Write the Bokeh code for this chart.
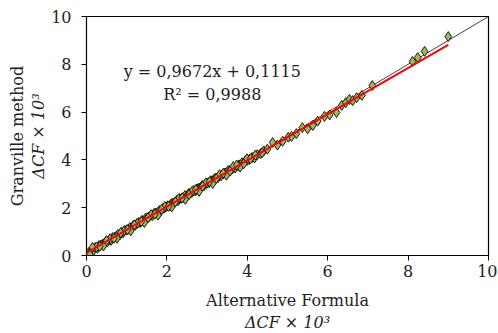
from bokeh.plotting import figure
from bokeh.models import LinearAxis, Label, FixedTicker, Range1d
from bokeh.embed import file_html
from bokeh.resources import INLINE

alt_x = [0.02,0.05,0.10,0.14,0.18,0.22,0.27,0.31,0.35,0.40,0.44,0.48,0.52,0.57,0.61,0.65,0.70,0.74,0.78,0.83,
         0.87,0.91,0.95,1.00,1.04,1.08,1.12,1.17,1.21,1.25,1.30,1.34,1.38,1.42,1.47,1.51,1.55,1.60,1.64,1.68,
         1.72,1.77,1.81,1.85,1.90,1.94,1.98,2.02,2.07,2.11,2.15,2.20,2.24,2.28,2.32,2.37,2.41,2.45,2.50,2.54,
         2.58,2.62,2.67,2.71,2.75,2.80,2.84,2.88,2.92,2.97,3.01,3.05,3.10,3.14,3.18,3.22,3.27,3.31,3.35,3.40,
         3.44,3.48,3.52,3.57,3.61,3.65,3.70,3.74,3.78,3.82,3.87,3.91,3.95,4.00,4.05,4.12,4.18,4.25,4.33,4.41,
         4.50,4.63,4.75,4.88,5.02,5.10,5.22,5.37,5.50,5.63,5.75,5.92,6.05,6.22,6.35,6.45,6.54,6.62,6.72,6.85,
         7.11,8.11,8.24,8.41,9.00,
         0.08,0.25,0.42,0.59,0.76,0.93,1.10,1.27,1.44,1.61,1.78,1.95,2.12,2.29,2.46,2.63,2.80,2.97,3.14,3.31,
         3.48,3.65,3.82,3.99,
         0.15,0.33,0.50,0.68,0.85,1.02,1.19,1.36,1.53,1.70,1.87,2.04,2.21,2.38,2.55,2.72,2.89,3.06,3.23,3.40,
         3.57,3.74,3.91,4.08,4.20,4.37]
granville_y = [0.00,0.12,0.15,0.24,0.22,0.33,0.30,0.41,0.44,0.47,0.50,0.58,0.57,0.66,0.63,0.75,0.76,0.80,0.88,0.86,
               0.97,0.95,1.05,1.07,1.10,1.17,1.15,1.27,1.26,1.33,1.38,1.39,1.47,1.45,1.56,1.57,1.61,1.68,1.66,1.76,
               1.78,1.81,1.88,1.87,1.97,1.99,2.03,2.08,2.08,2.17,2.19,2.23,2.30,2.29,2.38,2.40,2.43,2.51,2.49,2.59,
               2.61,2.64,2.72,2.70,2.79,2.82,2.85,2.93,2.91,3.00,3.03,3.05,3.13,3.12,3.21,3.24,3.25,3.33,3.34,3.41,
               3.45,3.46,3.55,3.56,3.60,3.67,3.66,3.75,3.77,3.80,3.88,3.86,3.96,3.98,4.02,4.10,4.08,4.22,4.26,4.38,
               4.45,4.73,4.62,4.78,4.95,4.98,5.10,5.35,5.30,5.44,5.62,5.82,5.88,5.98,6.28,6.40,6.53,6.48,6.60,6.70,
               7.11,8.12,8.28,8.54,9.16,
               0.05,0.36,0.40,0.70,0.72,1.02,1.03,1.35,1.38,1.71,1.69,2.05,2.03,2.37,2.35,2.69,2.68,3.04,3.01,3.38,
               3.36,3.72,3.70,4.05,
               0.34,0.38,0.62,0.72,0.95,1.08,1.28,1.42,1.58,1.73,1.93,2.06,2.24,2.41,2.55,2.76,2.90,3.09,3.22,3.44,
               3.53,3.78,3.84,4.05,4.20,4.30]

slope = 0.9672
intercept = 0.1115
eq_text = "y = 0,9672x + 0,1115"
r2_text = "R² = 0,9988"
ticks = [0, 2, 4, 6, 8, 10]

FONT = "DejaVu Serif"
FS = "16px"
TXT = "#222222"

p = figure(frame_width=402, frame_height=239, output_backend="svg", toolbar_location=None,
           x_range=Range1d(0, 10), y_range=Range1d(0, 10),
           min_border_left=86, min_border_right=9, min_border_top=16, min_border_bottom=76,
           x_axis_location=None, y_axis_location=None)
p.grid.visible = False
p.outline_line_color = "black"
p.outline_line_width = 1.2
p.background_fill_color = "white"
p.border_fill_color = "white"


def main_axis(label, italic, tick_standoff, label_standoff):
    ax = LinearAxis(axis_label=label, ticker=FixedTicker(ticks=ticks))
    ax.major_label_text_font = FONT
    ax.major_label_text_font_size = FS
    ax.major_label_text_color = TXT
    ax.axis_label_text_font = FONT
    ax.axis_label_text_font_size = FS
    ax.axis_label_text_font_style = "italic" if italic else "normal"
    ax.axis_label_text_color = TXT
    ax.minor_tick_line_color = None
    ax.major_tick_in = 0
    ax.major_tick_out = 5
    ax.axis_line_color = "black"
    ax.major_tick_line_color = "black"
    ax.axis_label_standoff = label_standoff
    ax.major_label_standoff = tick_standoff
    return ax


def label_axis(label, italic):
    return LinearAxis(axis_label=label, ticker=FixedTicker(ticks=[]),
                      axis_line_color=None, major_tick_line_color=None, minor_tick_line_color=None,
                      major_label_text_font_size="0px", axis_label_text_font=FONT,
                      axis_label_text_font_size=FS, axis_label_text_color=TXT,
                      axis_label_text_font_style="italic" if italic else "normal",
                      axis_label_standoff=0)


p.add_layout(main_axis("Alternative Formula", False, 4, 11), "below")
p.add_layout(label_axis("ΔCF × 10³", True), "below")
p.add_layout(main_axis("ΔCF × 10³", True, 10, 0), "left")
p.add_layout(label_axis("Granville method", False), "left")

# y = x reference line
p.line([0, 10], [0, 10], line_color="#404040", line_width=1)

p.scatter(alt_x, granville_y, marker="diamond", size=10, fill_color="#9BBB59",
          line_color="#1a1a1a", line_width=1)

xmax = max(alt_x)
p.line([0, xmax], [intercept, slope * xmax + intercept], line_color="red", line_width=2)

p.add_layout(Label(x=3.13, y=7.7, text=eq_text, text_align="center", text_baseline="middle",
                   text_font=FONT, text_font_size=FS, text_color=TXT))
p.add_layout(Label(x=3.13, y=6.75, text=r2_text, text_align="center", text_baseline="middle",
                   text_font=FONT, text_font_size=FS, text_color=TXT))

open("out.html", "w").write(file_html(p, INLINE))
